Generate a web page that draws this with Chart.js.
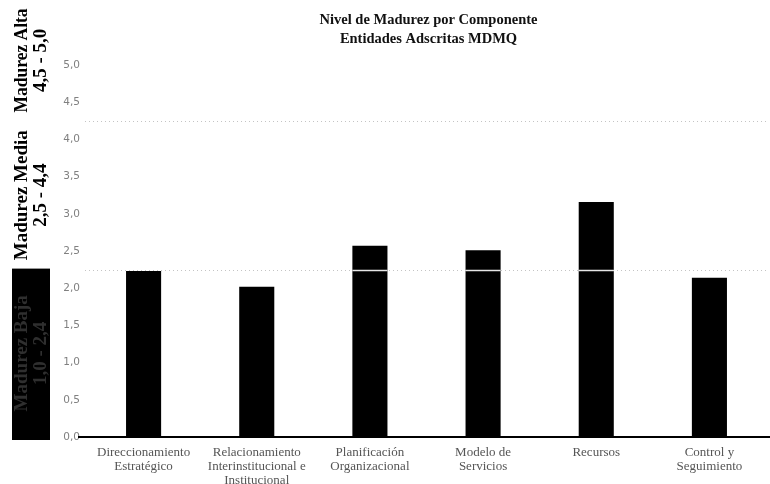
<!DOCTYPE html>
<html><head><meta charset="utf-8">
<script src="https://cdn.jsdelivr.net/npm/chart.js@4"></script>
<style>html,body{margin:0;padding:0;background:#fff}#wrap{width:770px;height:484px;position:relative}</style>
</head><body><div id="wrap"><canvas id="c" width="770" height="484"></canvas></div>
<script>
const categories = [
  ["Direccionamiento", "Estratégico"],
  ["Relacionamiento", "Interinstitucional e", "Institucional"],
  ["Planificación", "Organizacional"],
  ["Modelo de", "Servicios"],
  ["Recursos"],
  ["Control y", "Seguimiento"]
];
const values = [2.23, 2.02, 2.57, 2.51, 3.16, 2.14];
const yTickLabels = ["0,0", "0,5", "1,0", "1,5", "2,0", "2,5", "3,0", "3,5", "4,0", "4,5", "5,0"];
const thresholds = [2.25, 4.25];
const bandLabels = [
  ["Madurez Baja", "1,0 - 2,4"],
  ["Madurez Media", "2,5 - 4,4"],
  ["Madurez Alta", "4,5 - 5,0"]
];
const titleLines = ["Nivel de Madurez por Componente", "Entidades Adscritas MDMQ"];

const decor = {
  id: 'decor',
  beforeDraw(chart) {
    const ctx = chart.ctx;
    ctx.save();
    ctx.fillStyle = '#fff';
    ctx.fillRect(0, 0, chart.width, chart.height);
    ctx.restore();
  },
  afterDatasetsDraw(chart) {
    const ctx = chart.ctx, ca = chart.chartArea, ys = chart.scales.y;
    const meta = chart.getDatasetMeta(0);
    ctx.save();
    thresholds.forEach(t => {
      const y = Math.round(ys.getPixelForValue(t)) + 0.5;
      ctx.strokeStyle = '#c4c4c4';
      ctx.lineWidth = 1;
      ctx.setLineDash([1, 3]);
      ctx.beginPath();
      ctx.moveTo(ca.left - 2, y);
      ctx.lineTo(ca.right, y);
      ctx.stroke();
      ctx.setLineDash([]);
      ctx.strokeStyle = '#e6e6e6';
      ctx.lineWidth = 1.5;
      meta.data.forEach(bar => {
        if (bar.y < y) {
          ctx.beginPath();
          ctx.moveTo(bar.x - bar.width / 2, y);
          ctx.lineTo(bar.x + bar.width / 2, y);
          ctx.stroke();
        }
      });
    });
    const y0 = ys.getPixelForValue(0);
    ctx.strokeStyle = '#000';
    ctx.lineWidth = 2;
    ctx.beginPath();
    ctx.moveTo(78, y0);
    ctx.lineTo(chart.width, y0);
    ctx.stroke();
    ctx.restore();
  },
  afterDraw(chart) {
    const ctx = chart.ctx, ca = chart.chartArea, ys = chart.scales.y;
    ctx.save();
    ctx.fillStyle = '#111';
    ctx.font = 'bold 14.5px "Liberation Serif", "DejaVu Serif", serif';
    ctx.textAlign = 'center';
    ctx.textBaseline = 'middle';
    const cx = (ca.left + ca.right) / 2 + 2;
    ctx.fillText(titleLines[0], cx, 20);
    ctx.fillText(titleLines[1], cx, 39);

    const pLow = ys.getPixelForValue(thresholds[0]);
    const pHigh = ys.getPixelForValue(thresholds[1]);
    const pZero = ys.getPixelForValue(0);
    ctx.fillStyle = '#000';
    ctx.fillRect(12, pLow - 1, 38, pZero - pLow + 4);
    const bands = [
      { c: (pLow + pZero) / 2, color: '#2f2f2f', w: 150 },
      { c: (pLow + pHigh) / 2, color: '#000', w: 142 },
      { c: pHigh / 2, color: '#000', w: 104 }
    ];
    ctx.font = 'bold 19px "Liberation Serif", "DejaVu Serif", serif';
    bands.forEach((b, i) => {
      ctx.fillStyle = b.color;
      [22, 41].forEach((x, j) => {
        ctx.save();
        ctx.translate(x, b.c);
        ctx.rotate(-Math.PI / 2);
        ctx.fillText(bandLabels[i][j], 0, 0, j === 0 ? b.w : 80);
        ctx.restore();
      });
    });
    ctx.restore();
  }
};

new Chart(document.getElementById('c'), {
  type: 'bar',
  data: {
    labels: categories,
    datasets: [{
      data: values,
      backgroundColor: '#000',
      borderWidth: 0,
      barPercentage: 0.31,
      categoryPercentage: 1
    }]
  },
  options: {
    responsive: false,
    animation: false,
    devicePixelRatio: 1,
    layout: { padding: { top: 65, right: 4, left: 0, bottom: 0 } },
    plugins: { legend: { display: false }, tooltip: { enabled: false }, title: { display: false } },
    scales: {
      x: {
        grid: { display: false, drawTicks: false },
        border: { display: false },
        ticks: {
          autoSkip: false, maxRotation: 0, minRotation: 0, padding: 8,
          color: '#555',
          font: { family: '"Liberation Serif", "DejaVu Serif", serif', size: 13, lineHeight: 1.1 }
        },
        afterFit(s) { s.height = 47; }
      },
      y: {
        min: 0, max: 5,
        grid: { display: false, drawTicks: false },
        border: { display: false },
        ticks: {
          stepSize: 0.5, padding: 7, color: '#808080',
          font: { family: '"DejaVu Sans", sans-serif', size: 10.5 },
          callback: (v, i) => yTickLabels[i]
        },
        afterFit(s) { s.width = 87; }
      }
    }
  },
  plugins: [decor]
});
</script>
</body></html>
